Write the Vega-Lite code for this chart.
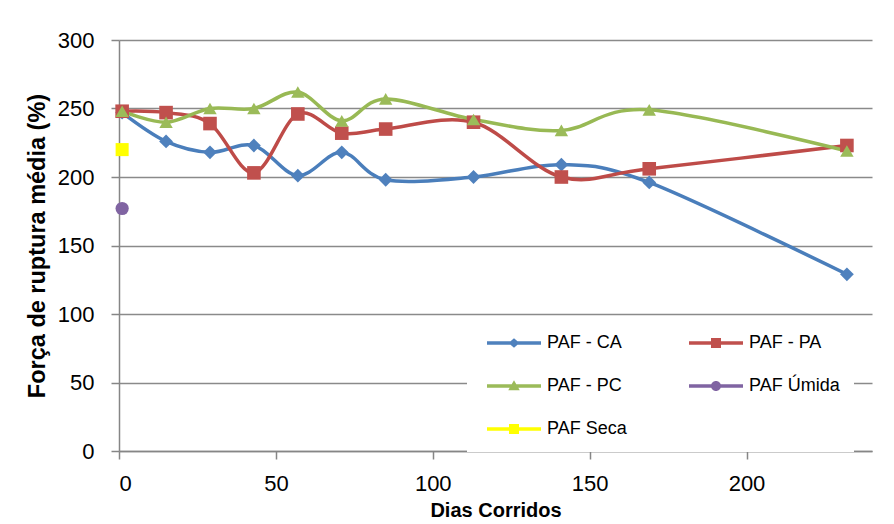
{
  "$schema": "https://vega.github.io/schema/vega-lite/v6.json",
  "width": 753,
  "height": 411,
  "autosize": {"type": "none"},
  "padding": {"left": 119, "top": 40, "right": 22, "bottom": 73},
  "background": "white",
  "config": {
    "view": {"fill": "#D9D9D9", "stroke": null},
    "font": "Liberation Sans",
    "axis": {
      "labelFont": "Liberation Sans",
      "labelFontSize": 22,
      "labelColor": "#000000",
      "titleFont": "Liberation Sans",
      "titleFontSize": 20,
      "titleFontWeight": "bold",
      "titleColor": "#000000",
      "domainColor": "#868686",
      "domainWidth": 1.5,
      "tickColor": "#868686",
      "tickWidth": 1.5,
      "tickSize": 8,
      "gridColor": "#8A8A8A",
      "gridWidth": 1.5
    },
    "legend": {
      "title": null, "orient": "none", "legendX": 348, "legendY": 280, "columns": 2, "direction": "horizontal",
      "fillColor": "#FFFFFF", "padding": 14, "symbolSize": 100, "symbolStrokeWidth": 0,
      "symbolOpacity": 1, "symbolOffset": 24, "labelOffset": 24,
      "labelFont": "Liberation Sans", "labelFontSize": 18, "labelColor": "#000000",
      "rowPadding": 25, "columnPadding": 45, "gridAlign": "all"
    }
  },
  "data": {
    "values": [
      {"series": "PAF - CA", "day": 1, "value": 247},
      {"series": "PAF - CA", "day": 15, "value": 226},
      {"series": "PAF - CA", "day": 29, "value": 218},
      {"series": "PAF - CA", "day": 43, "value": 223},
      {"series": "PAF - CA", "day": 57, "value": 201},
      {"series": "PAF - CA", "day": 71, "value": 218},
      {"series": "PAF - CA", "day": 85, "value": 198},
      {"series": "PAF - CA", "day": 113, "value": 200},
      {"series": "PAF - CA", "day": 141, "value": 209},
      {"series": "PAF - CA", "day": 169, "value": 196},
      {"series": "PAF - CA", "day": 232, "value": 129},
      {"series": "PAF - PA", "day": 1, "value": 248},
      {"series": "PAF - PA", "day": 15, "value": 247},
      {"series": "PAF - PA", "day": 29, "value": 239},
      {"series": "PAF - PA", "day": 43, "value": 203},
      {"series": "PAF - PA", "day": 57, "value": 246},
      {"series": "PAF - PA", "day": 71, "value": 232},
      {"series": "PAF - PA", "day": 85, "value": 235},
      {"series": "PAF - PA", "day": 113, "value": 240},
      {"series": "PAF - PA", "day": 141, "value": 200},
      {"series": "PAF - PA", "day": 169, "value": 206},
      {"series": "PAF - PA", "day": 232, "value": 223},
      {"series": "PAF - PC", "day": 1, "value": 248},
      {"series": "PAF - PC", "day": 15, "value": 240},
      {"series": "PAF - PC", "day": 29, "value": 250},
      {"series": "PAF - PC", "day": 43, "value": 250},
      {"series": "PAF - PC", "day": 57, "value": 262},
      {"series": "PAF - PC", "day": 71, "value": 241},
      {"series": "PAF - PC", "day": 85, "value": 257},
      {"series": "PAF - PC", "day": 113, "value": 242},
      {"series": "PAF - PC", "day": 141, "value": 234},
      {"series": "PAF - PC", "day": 169, "value": 249},
      {"series": "PAF - PC", "day": 232, "value": 219},
      {"series": "PAF Úmida", "day": 1, "value": 177},
      {"series": "PAF Seca", "day": 1, "value": 220}
    ]
  },
  "layer": [
    {
      "transform": [{"filter": {"field": "series", "oneOf": ["PAF - CA", "PAF - PA", "PAF - PC"]}}],
      "mark": {"type": "line", "interpolate": "cardinal", "strokeWidth": 3.5},
      "encoding": {
        "x": {
          "field": "day", "type": "quantitative",
          "scale": {"domain": [0, 240], "nice": false, "zero": true},
          "axis": {"values": [0, 50, 100, 150, 200], "title": "Dias Corridos", "grid": false, "labelPadding": 14, "titlePadding": 6}
        },
        "y": {
          "field": "value", "type": "quantitative",
          "scale": {"domain": [0, 300], "nice": false},
          "axis": {"values": [0, 50, 100, 150, 200, 250, 300], "title": "Força de ruptura média (%)", "titleFontSize": 23.5, "grid": true, "labelPadding": 17, "titlePadding": 8}
        },
        "color": {
          "field": "series", "type": "nominal",
          "scale": {"domain": ["PAF - CA", "PAF - PA", "PAF - PC"], "range": ["#4A7EBB", "#BE4B48", "#98B954"]},
          "legend": null
        },
        "detail": {"field": "series"}
      }
    },
    {
      "mark": {"type": "point", "filled": true, "opacity": 1, "strokeWidth": 0},
      "encoding": {
        "x": {"field": "day", "type": "quantitative"},
        "y": {"field": "value", "type": "quantitative"},
        "color": {
          "field": "series", "type": "nominal",
          "scale": {"domain": ["PAF - CA", "PAF - PA", "PAF - PC", "PAF Úmida", "PAF Seca"], "range": ["#4F81BD", "#C0504D", "#9BBB59", "#8064A2", "#FFFF00"]},
          "legend": null
        },
        "shape": {
          "field": "series", "type": "nominal",
          "scale": {"domain": ["PAF - CA", "PAF - PA", "PAF - PC", "PAF Úmida", "PAF Seca"], "range": ["diamond", "square", "triangle-up", "circle", "square"]},
          "legend": null
        },
        "size": {
          "field": "series", "type": "nominal",
          "scale": {"domain": ["PAF - CA", "PAF - PA", "PAF - PC", "PAF Úmida", "PAF Seca"], "range": [190, 170, 200, 441, 400]},
          "legend": null
        }
      }
    },
    {
      "data": {"values": [
        {"series": "PAF - CA"}, {"series": "PAF - PA"}, {"series": "PAF - PC"}, {"series": "PAF Úmida"}, {"series": "PAF Seca"}
      ]},
      "mark": {"type": "point", "filled": true, "opacity": 0, "size": 100, "strokeWidth": 0},
      "encoding": {
        "color": {
          "field": "series", "type": "nominal",
          "scale": {"domain": ["PAF - CA", "PAF - PA", "PAF - PC", "PAF Úmida", "PAF Seca"], "range": ["#4F81BD", "#C0504D", "#9BBB59", "#8064A2", "#FFFF00"]}
        },
        "shape": {
          "field": "series", "type": "nominal",
          "scale": {"domain": ["PAF - CA", "PAF - PA", "PAF - PC", "PAF Úmida", "PAF Seca"], "range": [
            "M-5.4,-0.35H5.4V0.35H-5.4Z M0,-0.95L1.1,0L0,0.95L-1.1,0Z",
            "M-5.4,-0.35H5.4V0.35H-5.4Z M-1,-1H1V1H-1Z",
            "M-5.4,-0.35H5.4V0.35H-5.4Z M0,-1.15L1.15,0.85L-1.15,0.85Z",
            "M-5.4,-0.35H5.4V0.35H-5.4Z M-1,0A1,1 0 1,1 1,0A1,1 0 1,1 -1,0Z",
            "M-5.4,-0.35H5.4V0.35H-5.4Z M-1,-1H1V1H-1Z"
          ]}
        }
      }
    }
  ],
  "resolve": {"scale": {"color": "independent", "shape": "independent", "size": "independent"}}
}
